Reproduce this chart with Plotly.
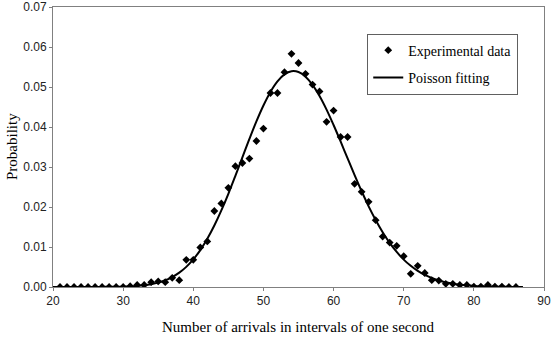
import plotly.graph_objects as go

exp_x = list(range(21, 87))
exp_y = [0, 0, 0, 0, 0, 0, 0, 0, 0, 0,
         0.0002, 0.0005, 0.0005, 0.0012, 0.0014, 0.0012, 0.0023, 0.0017, 0.0068, 0.0068,
         0.0099, 0.0114, 0.0190, 0.0209, 0.0248, 0.0302, 0.0310, 0.0321, 0.0365, 0.0396,
         0.0485, 0.0485, 0.0537, 0.0583, 0.0560, 0.0533, 0.0506, 0.0489, 0.0413, 0.0441,
         0.0375, 0.0375, 0.0258, 0.0238, 0.0213, 0.0167, 0.0126, 0.0111, 0.0103, 0.0077,
         0.0033, 0.0053, 0.0035, 0.0017, 0.0016, 0.0008, 0.0008, 0.0005, 0.0005, 0.0001,
         0.0001, 0.0005, 0.0001, 0.0001, 0.0, 0.0]

fit_x = list(range(20, 88))
fit_y = [0, 0, 0, 0, 0.00001, 0.00001, 0.00002, 0.00003, 0.00004, 0.00006,
         0.00009, 0.00016, 0.00026, 0.00043, 0.00070, 0.00110, 0.00168, 0.00249, 0.00358, 0.00503,
         0.00690, 0.00923, 0.01205, 0.01536, 0.01914, 0.02331, 0.02779, 0.03241, 0.03701, 0.04140,
         0.04538, 0.04876, 0.05139, 0.05314, 0.05393, 0.05374, 0.05258, 0.05055, 0.04775, 0.04435,
         0.04050, 0.03638, 0.03215, 0.02796, 0.02393, 0.02017, 0.01675, 0.01369, 0.01103, 0.00876,
         0.00685, 0.00529, 0.00402, 0.00302, 0.00224, 0.00164, 0.00118, 0.00083, 0.00059, 0.00041,
         0.00028, 0.00019, 0.00013, 0.00008, 0.00006, 0.00004, 0.00002, 0.00001]

x_ticks = [20, 30, 40, 50, 60, 70, 80, 90]
y_ticks = [0, 0.01, 0.02, 0.03, 0.04, 0.05, 0.06, 0.07]

fig = go.Figure()
fig.add_trace(go.Scatter(x=exp_x, y=exp_y, mode="markers", name="Experimental data",
                         legendgroup="a",
                         marker=dict(symbol="diamond", size=6, color="black")))
fig.add_trace(go.Scatter(x=fit_x, y=fit_y, mode="lines", name="Poisson fitting",
                         legendgroup="b",
                         line=dict(color="black", width=2, shape="spline")))

axis_common = dict(showline=True, linecolor="#808080", linewidth=1, mirror=True,
                   showgrid=False, zeroline=False, ticks="outside", ticklen=3,
                   tickcolor="#808080", automargin=False,
                   tickfont=dict(family="Liberation Sans, Arial", size=12, color="#222"))

serif = "Liberation Serif, Times New Roman"

fig.update_layout(
    width=552, height=338,
    margin=dict(l=53, r=8, t=7, b=51),
    paper_bgcolor="white", plot_bgcolor="white",
    xaxis=dict(range=[20, 90], tickvals=x_ticks, ticktext=[str(v) for v in x_ticks],
               **axis_common),
    yaxis=dict(range=[0, 0.07], tickvals=y_ticks, ticktext=["%.2f" % v for v in y_ticks],
               **axis_common),
    legend=dict(x=0.64, y=0.905, xanchor="left", yanchor="top",
                bgcolor="white", bordercolor="#606060", borderwidth=1,
                font=dict(family=serif, size=14, color="black"),
                tracegroupgap=6),
    showlegend=True,
    annotations=[
        dict(text="Number of arrivals in intervals of one second", xref="paper", yref="paper",
             x=0.5, y=0, yshift=-40, xanchor="center", yanchor="middle", showarrow=False,
             font=dict(family=serif, size=15, color="black")),
        dict(text="Probability", xref="paper", yref="paper", x=0, xshift=-41, y=0.5,
             xanchor="center", yanchor="middle", textangle=-90, showarrow=False,
             font=dict(family=serif, size=15, color="black")),
    ],
)

fig.write_html("out.html", config={"displayModeBar": False},
               post_script="document.body.style.margin='0';document.body.style.padding='0';")
